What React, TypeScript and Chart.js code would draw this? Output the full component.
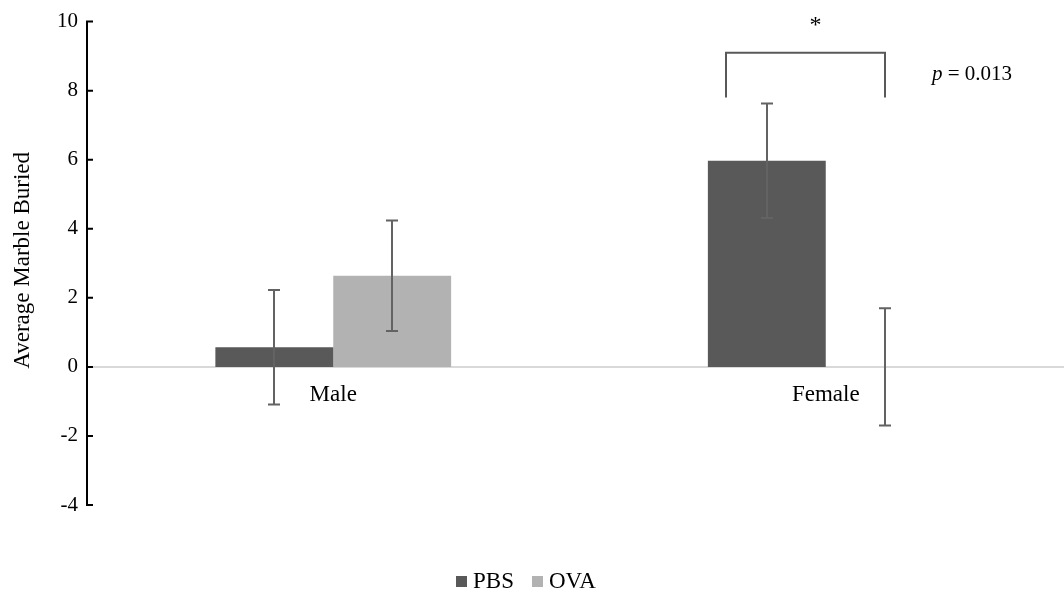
import React, { useEffect, useRef } from "react";
import { Chart, registerables } from "chart.js";

Chart.register(...registerables);

// ---- data ----
const categories = ["Male", "Female"];
const seriesNames = ["PBS", "OVA"];
const pbsValues = [0.57, 5.97];
const ovaValues = [2.64, 0];
const pbsErrors = [1.66, 1.66];
const ovaErrors = [1.6, 1.7];
const yMin = -4;
const yMax = 10;
const yStep = 2;
const axisTitle = "Average Marble Buried";
const sigMark = "*";
const pLabel = "p";
const pValueText = " = 0.013";
const bracketTop = 9.1;
const bracketBottom = 7.8;

const PBS_COLOR = "#595959";
const OVA_COLOR = "#b2b2b2";
const ERR_COLOR = "#636363";
const FONT = "'Liberation Serif', 'Times New Roman', serif";

const W = 1080;
const H = 596;

const customPlugin = {
  id: "custom",
  beforeDatasetsDraw(chart: any) {
    const { ctx, chartArea } = chart;
    const y = chart.scales.y.getPixelForValue(0);
    ctx.save();
    ctx.strokeStyle = "#d9d9d9";
    ctx.lineWidth = 2;
    ctx.beginPath();
    ctx.moveTo(chartArea.left, y);
    ctx.lineTo(chartArea.right, y);
    ctx.stroke();
    ctx.restore();
  },
  afterDatasetsDraw(chart: any) {
    const { ctx } = chart;
    const ys = chart.scales.y;
    const errs = [pbsErrors, ovaErrors];
    const vals = [pbsValues, ovaValues];
    ctx.save();
    ctx.strokeStyle = ERR_COLOR;
    ctx.lineWidth = 2;
    for (let d = 0; d < 2; d++) {
      const meta = chart.getDatasetMeta(d);
      meta.data.forEach((bar: any, i: number) => {
        const x = Math.round(bar.x);
        const top = ys.getPixelForValue(vals[d][i] + errs[d][i]);
        const bot = ys.getPixelForValue(vals[d][i] - errs[d][i]);
        ctx.beginPath();
        ctx.moveTo(x, top);
        ctx.lineTo(x, bot);
        ctx.moveTo(x - 6, top);
        ctx.lineTo(x + 6, top);
        ctx.moveTo(x - 6, bot);
        ctx.lineTo(x + 6, bot);
        ctx.stroke();
      });
    }
    ctx.restore();
  },
  afterDraw(chart: any) {
    const { ctx, chartArea } = chart;
    const ys = chart.scales.y;
    const xs = chart.scales.x;
    ctx.save();
    // axis line
    ctx.strokeStyle = "#000";
    ctx.lineWidth = 2;
    ctx.beginPath();
    ctx.moveTo(chartArea.left, chartArea.top);
    ctx.lineTo(chartArea.left, chartArea.bottom);
    for (let v = yMin; v <= yMax; v += yStep) {
      const y = ys.getPixelForValue(v);
      ctx.moveTo(chartArea.left - 1, y);
      ctx.lineTo(chartArea.left + 6, y);
    }
    ctx.stroke();

    // category labels
    ctx.fillStyle = "#000";
    ctx.font = `23px ${FONT}`;
    ctx.textAlign = "center";
    ctx.textBaseline = "middle";
    const y0 = ys.getPixelForValue(0);
    categories.forEach((c, i) => {
      ctx.fillText(c, xs.getPixelForValue(i), y0 + 28);
    });

    // axis title
    ctx.save();
    ctx.translate(23, (chartArea.top + chartArea.bottom) / 2 - 3);
    ctx.rotate(-Math.PI / 2);
    ctx.fillText(axisTitle, 0, 0);
    ctx.restore();

    // legend
    const legendY = 581;
    const items = [
      { name: seriesNames[0], color: PBS_COLOR, x: 456 },
      { name: seriesNames[1], color: OVA_COLOR, x: 532 },
    ];
    ctx.textAlign = "left";
    items.forEach((it) => {
      ctx.fillStyle = it.color;
      ctx.fillRect(it.x, legendY - 5, 11, 11);
      ctx.fillStyle = "#000";
      ctx.fillText(it.name, it.x + 17, legendY + 1);
    });

    // significance bracket
    const pbsBar: any = chart.getDatasetMeta(0).data[1];
    const ovaBar: any = chart.getDatasetMeta(1).data[1];
    const bl = Math.round(pbsBar.x - pbsBar.width * 0.35);
    const br = Math.round(ovaBar.x);
    const bt = ys.getPixelForValue(bracketTop);
    const bb = ys.getPixelForValue(bracketBottom);
    ctx.strokeStyle = "#595959";
    ctx.lineWidth = 2;
    ctx.beginPath();
    ctx.moveTo(bl, bb);
    ctx.lineTo(bl, bt);
    ctx.lineTo(br, bt);
    ctx.lineTo(br, bb);
    ctx.stroke();

    ctx.fillStyle = "#000";
    ctx.textAlign = "center";
    ctx.textBaseline = "alphabetic";
    ctx.font = `24px ${FONT}`;
    ctx.fillText(sigMark, (bl + br) / 2 + 10, bt - 21);

    // p value
    ctx.textAlign = "left";
    ctx.textBaseline = "middle";
    const px = br + 47;
    const py = bt + 22;
    ctx.font = `italic 21px ${FONT}`;
    ctx.fillText(pLabel, px, py);
    const pw = ctx.measureText(pLabel).width;
    ctx.font = `21px ${FONT}`;
    ctx.fillText(pValueText, px + pw, py);
    ctx.restore();
  },
};

export default function App() {
  const ref = useRef<HTMLCanvasElement>(null);
  useEffect(() => {
    if (!ref.current) return;
    const chart = new Chart(ref.current, {
      type: "bar",
      data: {
        labels: categories,
        datasets: [
          { label: seriesNames[0], data: pbsValues, backgroundColor: PBS_COLOR, borderWidth: 0 },
          { label: seriesNames[1], data: ovaValues, backgroundColor: OVA_COLOR, borderWidth: 0 },
        ],
      },
      options: {
        responsive: false,
        animation: false,
        devicePixelRatio: 1,
        datasets: { bar: { categoryPercentage: 0.4787, barPercentage: 1 } },
        layout: { padding: { top: 19, bottom: 91, left: 0, right: 8 } },
        plugins: { legend: { display: false }, tooltip: { enabled: false } },
        scales: {
          x: { display: false },
          y: {
            min: yMin,
            max: yMax,
            ticks: {
              stepSize: yStep,
              padding: 9,
              color: "#000",
              font: { family: FONT, size: 21 },
            },
            grid: { display: false, drawTicks: false },
            border: { display: false },
            afterFit(s: any) {
              s.width = 87;
            },
          },
        },
      },
      plugins: [customPlugin],
    } as any);
    return () => chart.destroy();
  }, []);
  return (
    <div style={{ position: "absolute", left: 0, top: 0, width: 1064, height: 596, overflow: "hidden", background: "#fff" }}>
      <canvas ref={ref} width={W} height={H} style={{ display: "block", width: W, height: H }} />
    </div>
  );
}
